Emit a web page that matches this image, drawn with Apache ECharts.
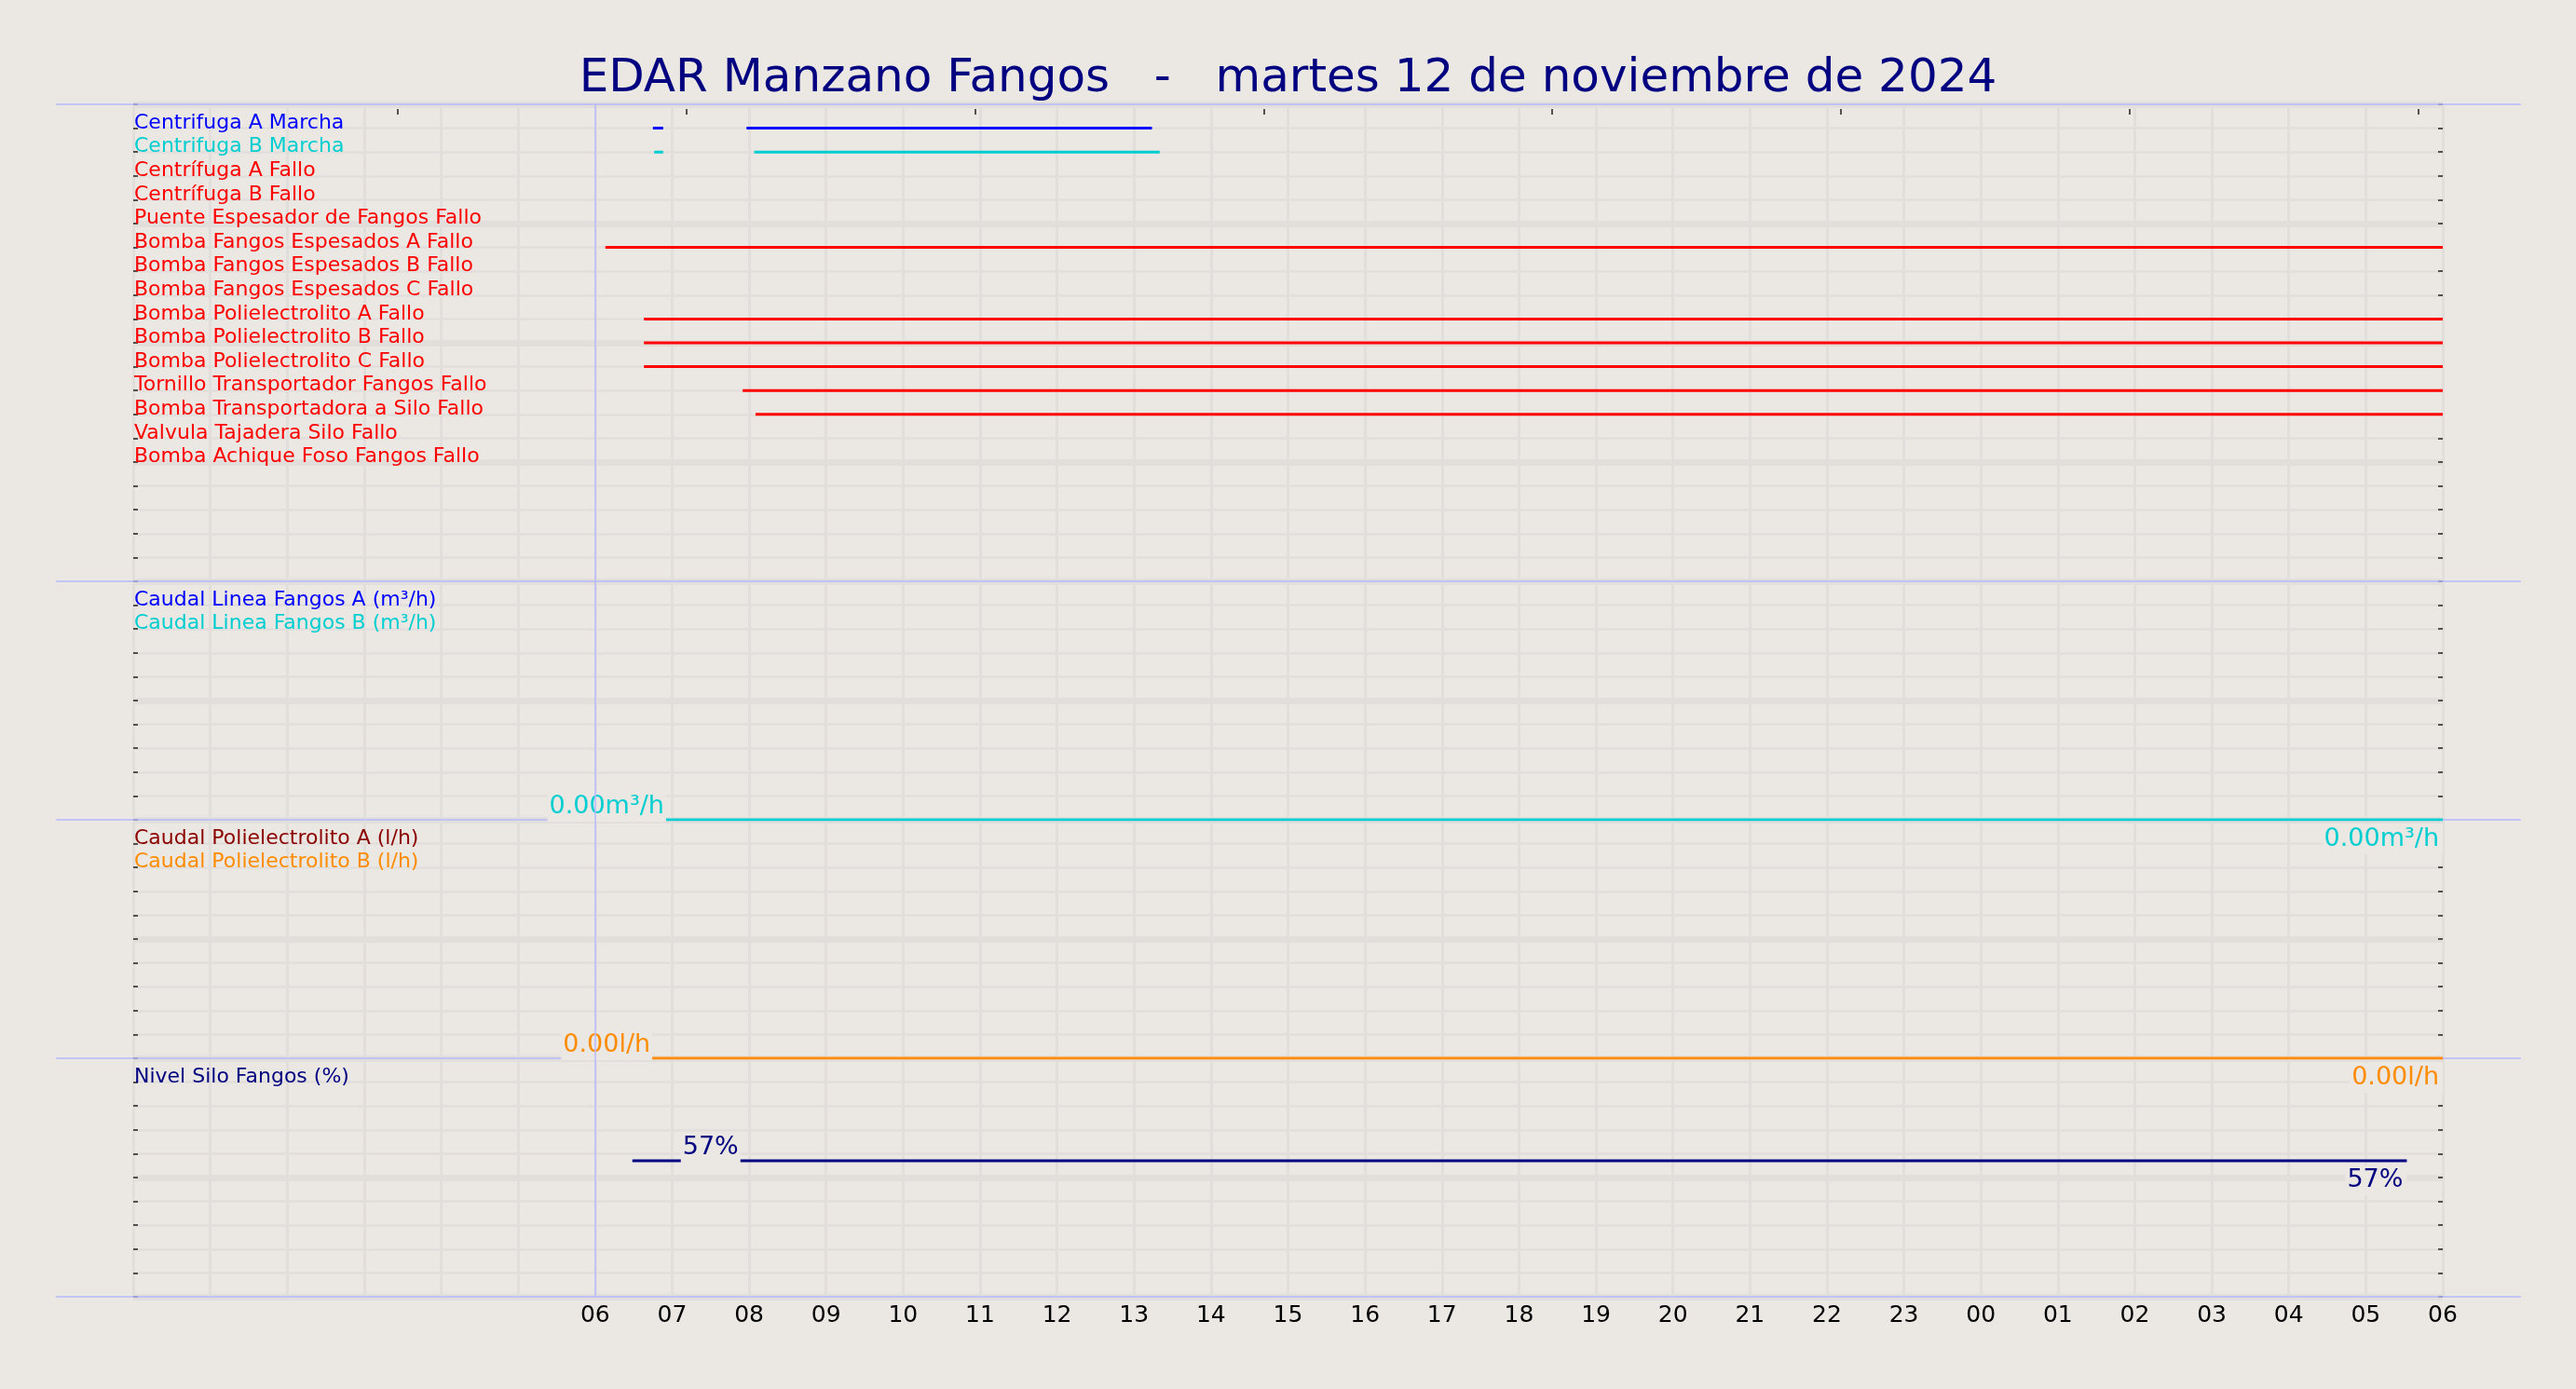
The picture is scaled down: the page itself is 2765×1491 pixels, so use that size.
<!DOCTYPE html>
<html><head><meta charset="utf-8">
<script src="https://cdn.jsdelivr.net/npm/echarts@6/dist/echarts.min.js"></script>
<style>html,body{margin:0;padding:0;background:#ebe7e2;}#c{width:2765px;height:1491px;}</style>
</head><body><div id="c"></div>
<script>
// ------------------ DATA ------------------
const titleText = 'EDAR Manzano Fangos   -   martes 12 de noviembre de 2024';
const axisStart = '2024-11-12 00:00';
const axisEnd = '2024-11-13 06:00';
const windowStart = '2024-11-12 06:00';
const topTickTimes = ['2024-11-12 03:26','2024-11-12 07:11','2024-11-12 10:56','2024-11-12 14:41',
                      '2024-11-12 18:26','2024-11-12 22:11','2024-11-13 01:56','2024-11-13 05:41'];

const digitalNames = ['Centrifuga A Marcha','Centrifuga B Marcha','Centrífuga A Fallo','Centrífuga B Fallo',
  'Puente Espesador de Fangos Fallo','Bomba Fangos Espesados A Fallo','Bomba Fangos Espesados B Fallo',
  'Bomba Fangos Espesados C Fallo','Bomba Polielectrolito A Fallo','Bomba Polielectrolito B Fallo',
  'Bomba Polielectrolito C Fallo','Tornillo Transportador Fangos Fallo','Bomba Transportadora a Silo Fallo',
  'Valvula Tajadera Silo Fallo','Bomba Achique Foso Fangos Fallo'];
const digitalColors = ['#0000ff','#00ced1','#ff0000','#ff0000','#ff0000','#ff0000','#ff0000','#ff0000',
  '#ff0000','#ff0000','#ff0000','#ff0000','#ff0000','#ff0000','#ff0000'];

const segCentrifugaAMarcha = [['2024-11-12 06:45','2024-11-12 06:53'],['2024-11-12 07:58','2024-11-12 13:14']];
const segCentrifugaBMarcha = [['2024-11-12 06:46','2024-11-12 06:53'],['2024-11-12 08:04','2024-11-12 13:20']];
const segBombaFangosEspAFallo = [['2024-11-12 06:08','2024-11-13 06:00']];
const segBombaPoliAFallo = [['2024-11-12 06:38','2024-11-13 06:00']];
const segBombaPoliBFallo = [['2024-11-12 06:38','2024-11-13 06:00']];
const segBombaPoliCFallo = [['2024-11-12 06:38','2024-11-13 06:00']];
const segTornilloFallo = [['2024-11-12 07:55','2024-11-13 06:00']];
const segBombaSiloFallo = [['2024-11-12 08:05','2024-11-13 06:00']];
const digitalSegments = [segCentrifugaAMarcha, segCentrifugaBMarcha, [], [], [], segBombaFangosEspAFallo, [], [],
  segBombaPoliAFallo, segBombaPoliBFallo, segBombaPoliCFallo, segTornilloFallo, segBombaSiloFallo, [], []];

const caudalLineaNames = ['Caudal Linea Fangos A (m³/h)','Caudal Linea Fangos B (m³/h)'];
const caudalLineaColors = ['#0000ff','#00ced1'];
const caudalLineaTimes = ['2024-11-12 06:09','2024-11-13 06:00'];
const caudalLineaA = [0, 0];
const caudalLineaB = [0, 0];

const polyNames = ['Caudal Polielectrolito A (l/h)','Caudal Polielectrolito B (l/h)'];
const polyColors = ['#8b0000','#ff8c00'];
const polyTimes = ['2024-11-12 06:09','2024-11-13 06:00'];
const polyA = [0, 0];
const polyB = [0, 0];

const nivelNames = ['Nivel Silo Fangos (%)'];
const nivelColors = ['#000080'];
const nivelTimes = ['2024-11-12 06:29','2024-11-12 07:30','2024-11-13 05:32'];
const nivelValues = [57, 57, 57];

// ------------------ LAYOUT / STYLE ------------------
const BG = '#ebe7e2', GRIDC = '#e2dedb', PURPLE = '#b8b8ff', TICKC = '#222222';
const FONT = 'DejaVu Sans';
const PLOT_L = 143, PLOT_R = 2622, TOP = 112, ROW = 25.6;
const panelRows = [20, 10, 10, 10];
const panelMax = [20, 10, 10, 100];
const panelInt = [1, 1, 1, 10];
const panelNames = [digitalNames, caudalLineaNames, polyNames, nivelNames];
const panelColors = [digitalColors, caudalLineaColors, polyColors, nivelColors];

function toH(s) {
  const day = +s.slice(8, 10) - 12;
  return day * 24 + (+s.slice(11, 13)) + (+s.slice(14, 16)) / 60;
}
const xMin = toH(axisStart), xMax = toH(axisEnd);

const grids = [], xAxes = [], yAxes = [], series = [], graphics = [];
let y = TOP;
const panelTops = [];
for (let g = 0; g < 4; g++) {
  panelTops.push(y);
  const h = panelRows[g] * ROW;
  grids.push({left: PLOT_L, width: PLOT_R - PLOT_L, top: y, height: h, containLabel: false});
  y += h;
}
panelTops.push(y);
panelTops.forEach(py => graphics.push({type: 'line', z: 1, silent: true,
  shape: {x1: 60, y1: py, x2: 2706, y2: py}, style: {stroke: PURPLE, lineWidth: 1.5}}));

for (let g = 0; g < 4; g++) {
  xAxes.push({gridIndex: g, type: 'value', position: 'bottom', min: xMin, max: xMax, interval: 1,
    axisLine: {show: false, onZero: false}, axisTick: {show: false},
    axisLabel: {show: g === 3, margin: 8, fontSize: 25, color: '#000', fontFamily: FONT,
      formatter: v => (v < toH(windowStart) - 0.01) ? '' : String(Math.round(v) % 24).padStart(2, '0')},
    splitLine: {show: true, lineStyle: {color: GRIDC, width: 3}}});
}
xAxes.push({gridIndex: 0, type: 'value', position: 'top', offset: -5, min: xMin, max: xMax,
  axisLine: {show: false, onZero: false}, axisLabel: {show: false}, splitLine: {show: false},
  axisTick: {show: true, inside: true, length: 6, customValues: topTickTimes.map(toH),
    lineStyle: {color: TICKC, width: 1.5}}});

for (let g = 0; g < 4; g++) {
  const names = panelNames[g], cols = panelColors[g];
  const rich = {};
  cols.forEach((c, i) => { rich['r' + i] = {color: c, fontSize: 22, lineHeight: 11, fontFamily: FONT}; });
  yAxes.push({gridIndex: g, type: 'value', position: 'left', min: 0, max: panelMax[g], interval: panelInt[g],
    axisLine: {show: false, onZero: false},
    axisTick: {show: true, inside: true, length: 5, lineStyle: {color: TICKC, width: 1.5}},
    axisLabel: {show: true, inside: true, margin: 1, verticalAlign: 'bottom', fontSize: 22, lineHeight: 11,
      fontFamily: FONT, rich: rich,
      formatter: v => {
        const r = Math.round((panelMax[g] - v) / panelInt[g]);
        const n = names[r - 1];
        return n ? '{r' + (r - 1) + '|' + n + '}' : '';
      }},
    splitLine: {show: true, lineStyle: {color: GRIDC, width: 2.5}}});
  yAxes.push({gridIndex: g, type: 'value', position: 'right', min: 0, max: panelMax[g], interval: panelInt[g],
    axisLine: {show: false, onZero: false}, axisLabel: {show: false}, splitLine: {show: false},
    axisTick: {show: true, inside: true, length: 5, lineStyle: {color: TICKC, width: 1.5}}});
  yAxes.push({gridIndex: g, type: 'value', position: 'right', min: 0, max: panelMax[g], interval: panelInt[g] * 5,
    axisLine: {show: false, onZero: false}, axisLabel: {show: false}, axisTick: {show: false},
    splitLine: {show: true, lineStyle: {color: GRIDC, width: 7}}});
}

const vMark = {silent: true, symbol: 'none', label: {show: false},
  lineStyle: {color: PURPLE, width: 1.5, type: 'solid'}, data: [{xAxis: toH(windowStart)}]};

// digital panel: row i (from top) sits on value panelMax - (i+1)
let firstDigital = true;
digitalSegments.forEach((segs, i) => {
  const rowVal = panelMax[0] - (i + 1) * panelInt[0];
  segs.forEach(seg => {
    const s = {type: 'line', xAxisIndex: 0, yAxisIndex: 0, showSymbol: false, silent: true,
      lineStyle: {color: digitalColors[i], width: 3}, itemStyle: {color: digitalColors[i]},
      data: [[toH(seg[0]), rowVal], [toH(seg[1]), rowVal]]};
    if (firstDigital) { s.markLine = vMark; firstDigital = false; }
    series.push(s);
  });
});

function valueLabelTop(color, fmt) {
  return {show: true, position: 'top', distance: -2, color: color, fontSize: 27, lineHeight: 28, fontFamily: FONT,
    backgroundColor: BG, padding: [2, 2, 2, 2], formatter: fmt};
}
function valueLabelEnd(color, fmt) {
  return {show: true, position: 'bottom', align: 'right', distance: 5, color: color, fontSize: 27, lineHeight: 28,
    fontFamily: FONT, backgroundColor: BG, padding: [2, 4, 2, 2], formatter: fmt};
}
function analogSeries(g, times, vals, color, width, withMark, labelIdx, fmt) {
  const data = times.map((t, i) => {
    const it = {value: [toH(t), vals[i]]};
    if (labelIdx !== null && i === labelIdx) it.label = valueLabelTop(color, fmt);
    if (labelIdx !== null && i === times.length - 1) it.label = valueLabelEnd(color, fmt);
    return it;
  });
  const s = {type: 'line', xAxisIndex: g, yAxisIndex: 3 * g, showSymbol: true, symbol: 'circle', symbolSize: 0.1,
    silent: true, lineStyle: {color: color, width: width}, itemStyle: {color: color}, label: {show: false}, data: data};
  if (withMark) s.markLine = vMark;
  return s;
}
const fmtM3 = p => p.value[1].toFixed(2) + 'm³/h';
const fmtLh = p => p.value[1].toFixed(2) + 'l/h';
const fmtPct = p => Math.round(p.value[1]) + '%';
series.push(analogSeries(1, caudalLineaTimes, caudalLineaA, caudalLineaColors[0], 1.5, true, null, fmtM3));
series.push(analogSeries(1, caudalLineaTimes, caudalLineaB, caudalLineaColors[1], 3, false, 0, fmtM3));
series.push(analogSeries(2, polyTimes, polyA, polyColors[0], 1.5, true, null, fmtLh));
series.push(analogSeries(2, polyTimes, polyB, polyColors[1], 3, false, 0, fmtLh));
series.push(analogSeries(3, nivelTimes, nivelValues, nivelColors[0], 3, true, 1, fmtPct));

const chart = echarts.init(document.getElementById('c'), null, {renderer: 'canvas'});
chart.setOption({
  animation: false,
  backgroundColor: BG,
  title: {text: titleText, left: 'center', top: 55,
    textStyle: {fontSize: 50, fontWeight: 'normal', color: '#000080', fontFamily: FONT}},
  grid: grids, xAxis: xAxes, yAxis: yAxes, series: series,
  graphic: {elements: graphics}
});
</script></body></html>
